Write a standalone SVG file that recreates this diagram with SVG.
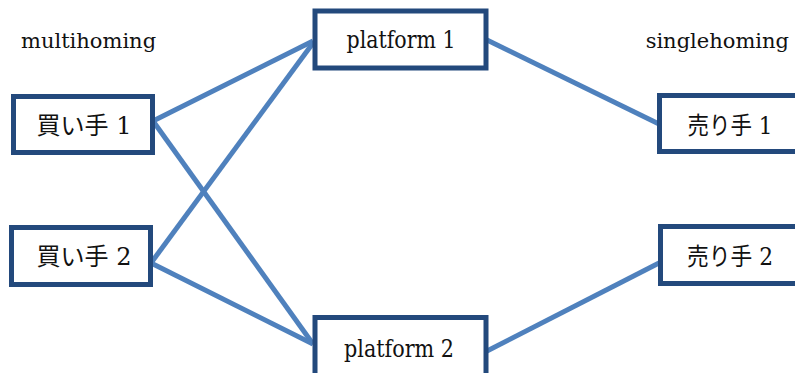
<svg xmlns="http://www.w3.org/2000/svg" width="795" height="373" viewBox="0 0 795 373">
<style>
.box{fill:#fff;stroke:#23497c;stroke-width:5}
.edge{stroke:#4f81bd;stroke-width:5;fill:none;stroke-linecap:butt}
.lbl{font-size:24px;fill:#111;text-anchor:middle}
.side{font-size:21px;fill:#111}
</style>
<rect width="795" height="373" fill="#fff"/>
<g id="connectors">
<line class="edge" x1="153" y1="121" x2="313" y2="41"/>
<line class="edge" x1="153" y1="121" x2="313" y2="344"/>
<line class="edge" x1="151" y1="263" x2="313" y2="43"/>
<line class="edge" x1="151" y1="263" x2="313" y2="344"/>
<line class="edge" x1="487" y1="40" x2="659" y2="124"/>
<line class="edge" x1="487" y1="351" x2="659" y2="263"/>
</g>
<g font-family="'DejaVu Serif', 'Liberation Serif', 'Noto Sans CJK JP', serif">
<g id="label-multihoming"><text class="side" x="21" y="48">multihoming</text></g>
<g id="label-singlehoming"><text class="side" x="789" y="48" text-anchor="end">singlehoming</text></g>
<g id="buyer1">
<rect class="box" x="13.5" y="96.5" width="139" height="56"/>
<text class="lbl" x="84" y="134" textLength="95" lengthAdjust="spacingAndGlyphs">買い手 1</text>
</g>
<g id="buyer2">
<rect class="box" x="11.5" y="227.5" width="139" height="57"/>
<text class="lbl" x="84" y="265" textLength="95" lengthAdjust="spacingAndGlyphs">買い手 2</text>
</g>
<g id="platform1">
<rect class="box" x="315" y="11" width="171" height="57"/>
<text class="lbl" x="401" y="48" textLength="109" lengthAdjust="spacingAndGlyphs">platform 1</text>
</g>
<g id="platform2">
<rect class="box" x="315" y="317.5" width="171" height="62"/>
<text class="lbl" x="399" y="357" textLength="110" lengthAdjust="spacingAndGlyphs">platform 2</text>
</g>
<g id="seller1">
<rect class="box" x="659.5" y="95.5" width="140" height="56"/>
<text class="lbl" x="730" y="134" textLength="85" lengthAdjust="spacingAndGlyphs">売り手 1</text>
</g>
<g id="seller2">
<rect class="box" x="660.5" y="226.5" width="140" height="57"/>
<text class="lbl" x="730" y="265" textLength="86" lengthAdjust="spacingAndGlyphs">売り手 2</text>
</g>
</g>
</svg>
